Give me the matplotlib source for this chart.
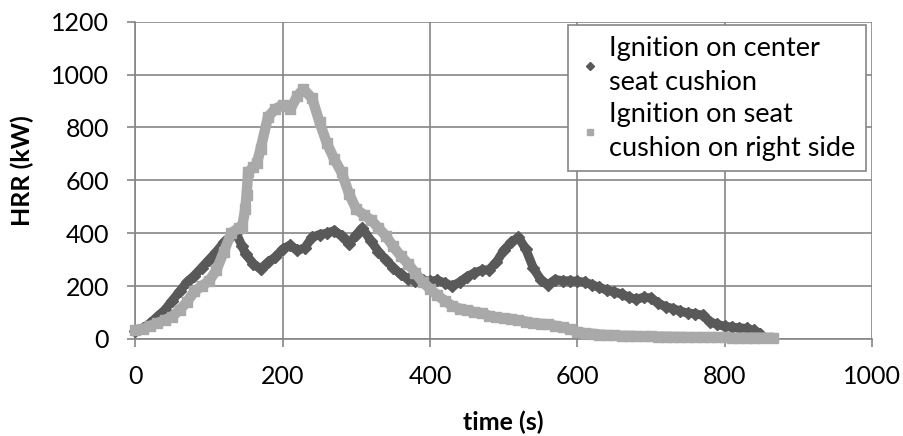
import matplotlib
matplotlib.use("Agg")
import matplotlib.pyplot as plt
from matplotlib.lines import Line2D

plt.rcParams['font.family'] = ['Lato', 'DejaVu Sans']

# Ignition on center seat cushion (time s, HRR kW)
center_t = [0, 10, 20, 30, 40, 50, 60, 70, 80, 90, 100, 110, 120, 130, 137, 145,
            150, 160, 170, 180, 190, 200, 210, 220, 230, 240, 250, 260, 270, 280,
            290, 300, 308, 320, 330, 340, 350, 360, 370, 380, 390, 400, 410, 420,
            430, 440, 450, 460, 470, 480, 490, 500, 510, 520, 530, 540, 550, 560,
            570, 580, 590, 600, 610, 620, 630, 640, 650, 660, 670, 680, 690, 700,
            710, 720, 730, 740, 750, 760, 770, 780, 790, 800, 810, 820, 830, 840, 848]
center_hrr = [30, 40, 60, 85, 110, 145, 180, 215, 240, 270, 300, 330, 365, 390, 400, 350,
              320, 285, 265, 290, 310, 340, 355, 335, 345, 385, 395, 400, 410, 390,
              360, 395, 420, 370, 330, 300, 270, 245, 228, 220, 222, 218, 222, 212,
              200, 215, 235, 250, 260, 262, 290, 335, 365, 385, 340, 270, 225, 205,
              225, 220, 220, 218, 215, 205, 195, 185, 178, 170, 158, 150, 158, 155,
              135, 122, 115, 105, 98, 95, 90, 65, 55, 48, 45, 42, 40, 33, 20]

# Ignition on seat cushion on right side
right_t = [0, 10, 20, 30, 40, 50, 60, 70, 80, 90, 100, 110, 120, 130, 140, 145,
           149, 151, 153, 160, 165, 170, 180, 190, 200, 210, 220, 228, 240, 250,
           260, 270, 280, 290, 300, 310, 320, 330, 340, 350, 360, 370, 380, 390,
           400, 410, 420, 430, 440, 450, 460, 470, 480, 490, 500, 510, 520, 530,
           540, 550, 560, 570, 580, 590, 600, 610, 620, 630, 640, 650, 660, 670,
           680, 690, 700, 710, 720, 730, 740, 750, 760, 770, 780, 790, 800, 810,
           820, 830, 840, 850, 865]
right_hrr = [35, 38, 50, 60, 72, 85, 110, 140, 180, 200, 220, 260, 330, 400, 420, 425,
             490, 545, 630, 650, 665, 720, 840, 870, 885, 868, 920, 945, 910, 820,
             740, 680, 630, 550, 490, 470, 450, 420, 390, 350, 315, 285, 250, 215,
             190, 165, 145, 125, 115, 108, 102, 98, 88, 82, 78, 76, 70, 66,
             60, 58, 55, 50, 45, 36, 28, 22, 20, 17, 15, 14, 12, 12,
             11, 10, 10, 9, 9, 8, 8, 7, 7, 7, 6, 6, 6, 5,
             5, 5, 5, 5, 5]

label_center = "Ignition on center\nseat cushion"
label_right = "Ignition on seat\ncushion on right side"
x_ticks = [0, 200, 400, 600, 800, 1000]
y_ticks = [0, 200, 400, 600, 800, 1000, 1200]

dark = '#595959'
light = '#a9a9a9'
grid_c = '#868686'

fig = plt.figure(figsize=(9.04, 4.36), dpi=100)
ax = fig.add_axes([135.4 / 904, 1 - 339 / 436, (872 - 135.4) / 904, (339 - 21.7) / 436])

ax.plot(center_t, center_hrr, color=dark, lw=6.5, marker='D', ms=6.5,
        solid_joinstyle='round', solid_capstyle='round', zorder=3, clip_on=False)
ax.plot(right_t, right_hrr, color=light, lw=7.5, marker='s', ms=7.5,
        solid_joinstyle='round', solid_capstyle='round', zorder=4, clip_on=False)

ax.set_xlim(0, 1000)
ax.set_ylim(0, 1200)
ax.set_xticks(x_ticks)
ax.set_yticks(y_ticks)
ax.grid(True, color=grid_c, lw=1.2)
ax.set_axisbelow(True)
for s in ['top', 'right']:
    ax.spines[s].set_visible(False)
for s in ['left', 'bottom']:
    ax.spines[s].set_color(grid_c)
    ax.spines[s].set_linewidth(1.2)
ax.tick_params(axis='both', direction='out', length=6, width=1.2, color=grid_c,
               labelsize=18, labelcolor='black')
ax.tick_params(axis='y', pad=13)
ax.tick_params(axis='x', pad=13)

ax.set_xlabel('time (s)', fontsize=18, fontweight='bold')
ax.set_ylabel('HRR (kW)', fontsize=18, fontweight='bold')
ax.xaxis.set_label_coords(0.5, -0.225)
ax.yaxis.set_label_coords(-0.137, 0.53)

handles = [Line2D([], [], color=dark, marker='D', ls='none', ms=4),
           Line2D([], [], color=light, marker='s', ms=5, ls='none')]
leg = ax.legend(handles, [label_center, label_right], loc='upper right',
                bbox_to_anchor=(866 / 904, 1 - 25 / 436), bbox_transform=fig.transFigure,
                borderaxespad=0, fancybox=False, framealpha=1, edgecolor=grid_c,
                fontsize=19.5, handlelength=0.8, handletextpad=0.3, labelspacing=0.25,
                borderpad=0.4)
for t in leg.get_texts():
    t.set_linespacing(1.45)
leg.get_frame().set_linewidth(1.2)
leg.set_zorder(10)

fig.savefig('out.png', dpi=100)
